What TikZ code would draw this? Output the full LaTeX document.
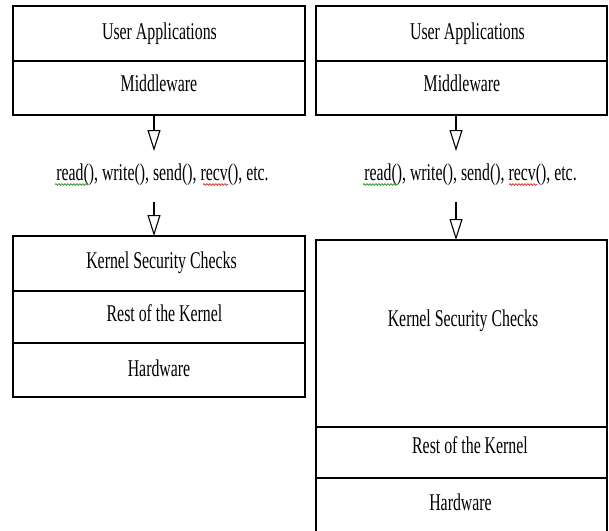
\documentclass[tikz,border=0pt]{standalone}
\usepackage{fontspec}
\setmainfont[FakeStretch=0.66]{Liberation Serif}
\usetikzlibrary{arrows.meta,decorations.pathmorphing}
\definecolor{spellgreen}{RGB}{40,150,40}
\definecolor{spellred}{RGB}{230,40,40}
\tikzset{
  layerbox/.style={draw=black, line width=1.2pt, inner sep=0pt, outer sep=0pt},
  leftbox/.style={layerbox, minimum width=292pt},
  rightbox/.style={layerbox, minimum width=291pt},
  layertext/.style={anchor=base, inner sep=0pt, font=\fontsize{24}{28}\selectfont},
  calltip/.style={line width=1.1pt, -{Triangle[open, length=21pt, width=13pt]}},
  squiggle/.style={line width=0.7pt, decorate,
    decoration={snake, amplitude=0.9pt, segment length=3pt}}
}
\begin{document}
\begin{tikzpicture}[x=1pt, y=-1pt]
\fill[white] (0,0) rectangle (609,530);
\useasboundingbox (0,0) rectangle (609,530);

% ---- left stack: ordinary kernel ----
\node[leftbox, minimum height=55pt] (ua1)  at (159,33.5) {};
\node[leftbox, minimum height=54pt] (mw1)  at (159,88)   {};
\node[leftbox, minimum height=55pt] (ksc1) at (159,263.5) {};
\node[leftbox, minimum height=52pt] (rk1)  at (159,317)  {};
\node[leftbox, minimum height=54pt] (hw1)  at (159,370)  {};

\node[layertext] (ua1t)  at (159.5,39.3)  {User Applications};
\node[layertext] (mw1t)  at (159,91.7)    {Middleware};
\node[layertext] (ksc1t) at (161.5,268.3) {Kernel Security Checks};
\node[layertext] (rk1t)  at (164.5,321.7) {Rest of the Kernel};
\node[layertext] (hw1t)  at (159,376.7)   {Hardware};

\node[layertext] (sys1) at (162.5,180) {read(), write(), send(), recv(), etc.};

\coordinate (t1) at (154,151);
\coordinate (s1) at (154,202);
\draw[calltip] (t1 |- mw1.south) -- (t1);
\draw[calltip] (s1) -- (s1 |- ksc1.north);

\draw[squiggle, spellgreen] (55,184.5) -- (88,184.5);
\draw[squiggle, spellred]   (203,184.5) -- (228,184.5);

% ---- right stack: enlarged security checks ----
\node[rightbox, minimum height=55pt]  (ua2)  at (461.5,33.5)  {};
\node[rightbox, minimum height=54pt]  (mw2)  at (461.5,88)    {};
\node[rightbox, minimum height=187pt] (ksc2) at (461.5,333.5) {};
\node[rightbox, minimum height=51pt]  (rk2)  at (461.5,452.5) {};
\node[layerbox, draw=none, minimum width=291pt, minimum height=57pt] (hw2) at (461.5,506.5) {};
\draw[line width=1.2pt] (hw2.north west) -- (hw2.south west);
\draw[line width=1.2pt] (hw2.north east) -- (hw2.south east);

\node[layertext] (ua2t)  at (467.5,39.3)  {User Applications};
\node[layertext] (mw2t)  at (462,91.7)    {Middleware};
\node[layertext] (ksc2t) at (463,326.7)   {Kernel Security Checks};
\node[layertext] (rk2t)  at (470,453.3)   {Rest of the Kernel};
\node[layertext] (hw2t)  at (460.5,510)   {Hardware};

\node[layertext] (sys2) at (470.5,180) {read(), write(), send(), recv(), etc.};

\coordinate (t2) at (456,151);
\coordinate (s2) at (456,202);
\draw[calltip] (t2 |- mw2.south) -- (t2);
\draw[calltip] (s2) -- (s2 |- ksc2.north);

\draw[squiggle, spellgreen] (363,184.5) -- (397,184.5);
\draw[squiggle, spellred]   (509,184.5) -- (537,184.5);
\end{tikzpicture}
\end{document}
